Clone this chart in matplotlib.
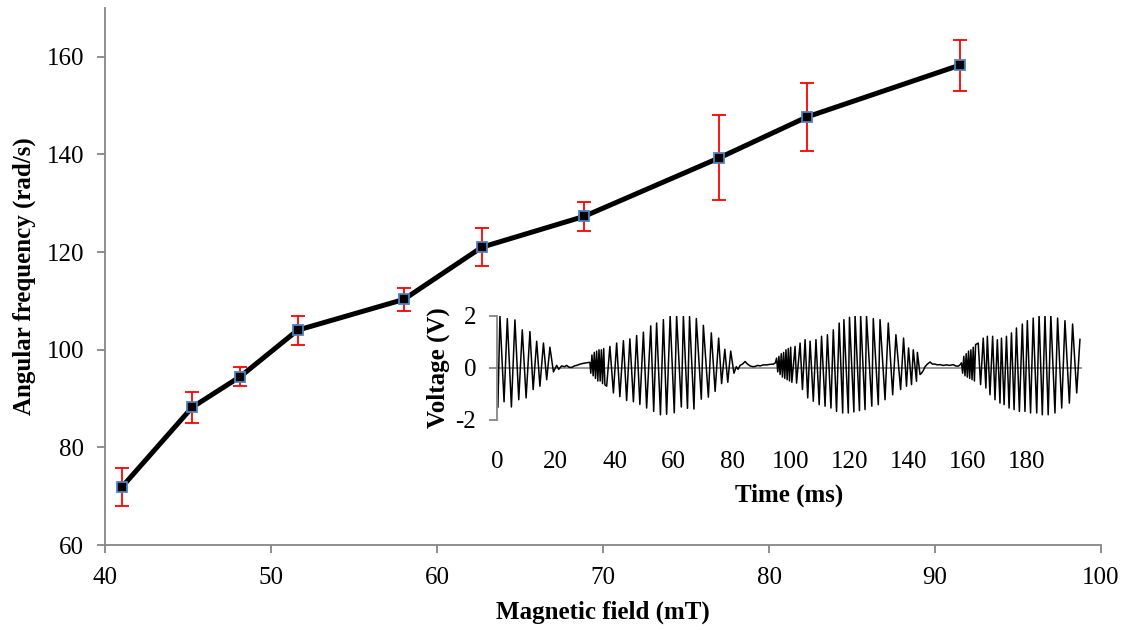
import numpy as np
import matplotlib
matplotlib.use("Agg")
import matplotlib.pyplot as plt

plt.rcParams['font.family'] = ['Liberation Serif', 'DejaVu Serif']
plt.rcParams['axes.unicode_minus'] = False

# main series: angular frequency vs magnetic field
field = [41.0, 45.25, 48.15, 51.6, 58.0, 62.7, 68.85, 77.0, 82.3, 91.5]
omega = [71.8, 88.2, 94.5, 104.0, 110.3, 121.0, 127.3, 139.3, 147.7, 158.3]
omega_err = [3.9, 3.2, 2.0, 3.0, 2.3, 3.9, 2.9, 8.7, 7.0, 5.2]

# inset: voltage trace, read as peaks / troughs / quiet stretches (time in ms, volts)
b1_top_t = [1.0, 3.5, 6.1, 8.6, 11.2, 13.5, 15.8, 18.0]
b1_top_v = [2.0, 1.9, 1.85, 1.47, 1.4, 1.03, 0.96, 0.8]
b1_bot_t = [0.3, 2.4, 4.9, 7.4, 9.9, 12.3, 14.6, 16.9, 19.2]
b1_bot_v = [-1.5, -1.3, -1.5, -1.22, -1.15, -0.83, -0.7, -0.45, -0.15]

q1_t = [20.3, 21.0, 22.0, 23.0, 23.7, 24.5, 25.4, 26.3, 27.1, 28.3, 29.4, 30.5, 31.6]
q1_v = [0.1, -0.05, 0.08, 0.05, 0.1, 0.03, 0.02, 0.08, 0.1, 0.15, 0.18, 0.2, 0.22]

d2_t = [31.9, 32.3, 32.7, 33.1, 33.5, 33.9, 34.3, 34.7, 35.1, 35.5, 35.9, 36.3, 36.7]
d2_v = [-0.2, 0.5, -0.3, 0.6, -0.4, 0.65, -0.5, 0.7, -0.5, 0.7, -0.6, 0.75, -0.65]

b2_top_t = [38.4, 40.7, 43.0, 45.2, 47.5, 49.8, 52.3, 54.3, 56.6, 58.9, 61.1, 63.4,
            65.5, 67.8, 70.2, 72.9, 75.4, 77.5, 79.5]
b2_top_v = [0.83, 0.96, 1.05, 1.12, 1.25, 1.38, 1.62, 1.73, 1.86, 2.0, 2.02, 2.0,
            1.98, 1.9, 1.64, 1.35, 1.15, 0.72, 0.65]
b2_bot_t = [37.3, 39.6, 41.8, 44.1, 46.4, 48.6, 50.9, 53.3, 55.6, 57.7, 60.3, 62.7,
            64.8, 67.0, 69.5, 71.9, 74.2, 76.4, 78.5, 80.6]
b2_bot_v = [-0.7, -0.96, -1.1, -1.25, -1.3, -1.4, -1.54, -1.67, -1.8, -1.78, -1.72, -1.5,
            -1.55, -1.58, -1.2, -1.12, -0.9, -0.6, -0.55, -0.2]

q2_t = [81.4, 82.0, 82.7, 83.5, 84.4, 85.2, 86.1, 87.0, 87.8, 88.7, 89.5, 90.6, 91.7,
        92.8, 94.0, 94.7, 95.1]
q2_v = [0.05, -0.05, 0.1, 0.15, 0.25, 0.15, 0.08, 0.05, 0.06, 0.1, 0.08, 0.12, 0.12,
        0.14, 0.15, 0.2, 0.38]

d3_t = [95.5, 95.9, 96.3, 96.7, 97.1, 97.5, 97.9, 98.3, 98.7, 99.1, 99.5, 99.9, 100.3]
d3_v = [-0.15, 0.45, -0.25, 0.55, -0.35, 0.6, -0.4, 0.7, -0.45, 0.75, -0.5, 0.8, -0.55]

b3_top_t = [101.4, 103.1, 104.8, 106.5, 108.5, 110.4, 112.4, 114.4, 116.4, 118.0, 119.9,
            121.8, 123.7, 125.7, 128.0, 130.3, 133.1, 135.7, 138.3, 140.0, 141.6, 143.0]
b3_top_v = [0.83, 0.96, 1.09, 1.03, 1.09, 1.22, 1.28, 1.47, 1.73, 1.86, 1.95,
            2.03, 2.03, 2.0, 1.9, 1.86, 1.73, 1.28, 1.15, 0.77, 0.7, 0.6]
b3_bot_t = [101.9, 103.9, 105.7, 107.6, 109.6, 111.6, 113.6, 115.5, 117.6, 119.5, 121.4,
            123.3, 125.2, 127.5, 129.7, 132.0, 134.6, 137.3, 139.3, 141.0, 142.7, 143.9]
b3_bot_v = [-0.58, -0.83, -1.15, -1.28, -1.41, -1.47, -1.54, -1.67, -1.73, -1.73, -1.69,
            -1.64, -1.6, -1.47, -1.41, -1.22, -1.03, -0.83, -0.7, -0.64, -0.51, -0.25]

q3_t = [144.4, 145.0, 145.6, 146.4, 147.3, 148.1, 149.0, 149.8, 150.7, 151.8, 152.9,
        154.0, 155.2, 156.0, 156.9, 157.5, 158.0]
q3_v = [-0.2, -0.1, 0.05, 0.15, 0.23, 0.15, 0.15, 0.12, 0.13, 0.1, 0.12,
        0.1, 0.13, 0.08, 0.07, 0.12, 0.2]

d4_t = [158.4, 158.8, 159.2, 159.6, 160.0, 160.4, 160.8, 161.2, 161.6, 162.0, 162.4, 162.8]
d4_v = [-0.2, 0.45, -0.3, 0.55, -0.35, 0.65, -0.4, 0.7, -0.45, 0.8, -0.5, 0.9]

b4_top_t = [163.7, 165.4, 166.8, 168.6, 170.2, 171.6, 173.3, 175.0, 176.7, 178.7,
            180.4, 182.4, 184.4, 186.4, 188.4, 190.7, 193.2, 195.8, 198.3]
b4_top_v = [0.96, 1.15, 1.22, 1.22, 1.09, 1.15, 1.22, 1.35, 1.54, 1.69,
            1.82, 1.92, 2.03, 2.03, 2.03, 1.92, 1.82, 1.69, 1.1]
b4_bot_t = [164.5, 166.3, 167.7, 169.4, 171.1, 172.5, 174.2, 175.9, 177.7, 179.6,
            181.5, 183.6, 185.5, 187.5, 189.8, 192.1, 194.7, 197.2]
b4_bot_v = [-0.64, -0.77, -1.03, -1.22, -1.35, -1.41, -1.54, -1.6, -1.67, -1.67,
            -1.73, -1.73, -1.8, -1.8, -1.73, -1.54, -1.35, -0.96]

time_ticks = [0, 20, 40, 60, 80, 100, 120, 140, 160, 180]

GRAY = '#868686'

fig = plt.figure(figsize=(11.26, 6.3), dpi=100)
ax = fig.add_axes([105 / 1126, 1 - 545 / 630, 996 / 1126, 537 / 630])

ax.errorbar(field, omega, yerr=omega_err, fmt='none', ecolor='#ff0000',
            elinewidth=1.3, capsize=5, capthick=1.3, zorder=2)
ax.plot(field, omega, color='black', lw=3.6, zorder=3)
ax.plot(field, omega, ls='none', marker='s', ms=7, mfc='black',
        mec='#4f81bd', mew=1.3, zorder=4)

ax.set_xlim(40, 100)
ax.set_ylim(60, 170)
ax.set_xticks(range(40, 101, 10))
ax.set_yticks(range(60, 161, 20))
for s in ['top', 'right']:
    ax.spines[s].set_visible(False)
for s in ['left', 'bottom']:
    ax.spines[s].set_color(GRAY)
    ax.spines[s].set_linewidth(1.3)
ax.tick_params(colors=GRAY, labelcolor='black', labelsize=18, length=6, width=1.3)
ax.tick_params(axis='x', pad=10)
ax.tick_params(axis='y', pad=9)
ax.set_xlabel('Magnetic field (mT)', fontsize=18, fontweight='bold', labelpad=8)
ax.set_ylabel('Angular frequency (rad/s)', fontsize=18, fontweight='bold', labelpad=8)

# inset voltage trace
tt = np.array(b1_top_t + b1_bot_t + q1_t + d2_t + b2_top_t + b2_bot_t + q2_t + d3_t
              + b3_top_t + b3_bot_t + q3_t + d4_t + b4_top_t + b4_bot_t)
vv = np.array(b1_top_v + b1_bot_v + q1_v + d2_v + b2_top_v + b2_bot_v + q2_v + d3_v
              + b3_top_v + b3_bot_v + q3_v + d4_v + b4_top_v + b4_bot_v)
order = np.argsort(tt)

axi = fig.add_axes([497 / 1126, 1 - 420 / 630, 585 / 1126, 104 / 630])
axi.patch.set_alpha(0)
axi.axhline(0, color=GRAY, lw=1.2, zorder=1)
axi.plot(tt[order], vv[order], color='black', lw=1.1, zorder=2)
axi.set_xlim(0, 199)
axi.set_ylim(-2, 2)
axi.set_yticks([-2, 0, 2])
axi.set_xticks(time_ticks)
for s in ['top', 'right', 'bottom']:
    axi.spines[s].set_visible(False)
axi.spines['left'].set_color(GRAY)
axi.spines['left'].set_linewidth(1.3)
axi.tick_params(axis='y', colors=GRAY, labelcolor='black', labelsize=18, length=6, width=1.3, pad=9)
axi.tick_params(axis='x', length=0, labelsize=18, pad=22)
axi.set_xlabel('Time (ms)', fontsize=18, fontweight='bold', labelpad=8)
axi.set_ylabel('Voltage (V)', fontsize=18, fontweight='bold', labelpad=4)

fig.savefig('out.png', dpi=100)
